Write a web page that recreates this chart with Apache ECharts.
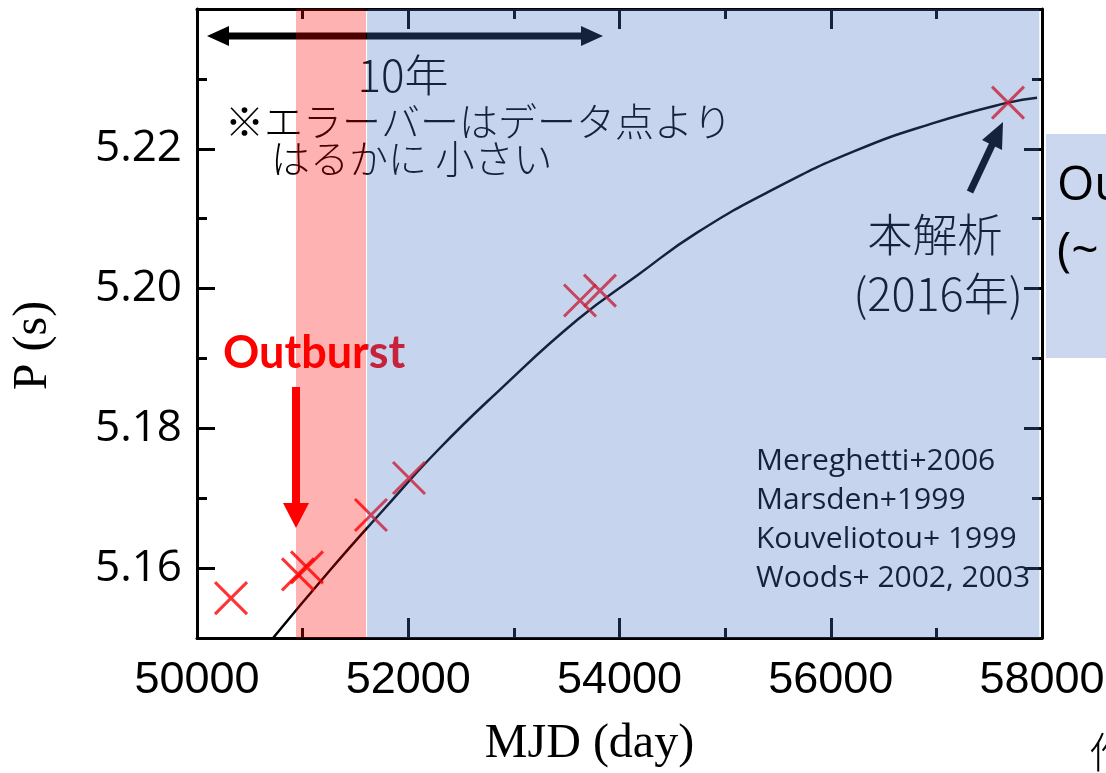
<!DOCTYPE html>
<html>
<head>
<meta charset="utf-8">
<script src="https://cdn.jsdelivr.net/npm/echarts@6/dist/echarts.min.js"></script>
<style>
html,body{margin:0;padding:0;background:#fff;}
#chart{width:1106px;height:773px;}
</style>
</head>
<body>
<div id="chart"></div>
<script>
// ---- data ----
const obsMJD = [50322, 50956, 51041, 51647, 52007, 53626, 53815, 57678];
const obsP   = [5.1557, 5.1591, 5.1601, 5.1676, 5.1729, 5.1983, 5.1997, 5.2266];
const fitMJD = [50720, 51259, 51751, 52282, 52859, 53607, 54170, 54734, 55482, 56230, 56978, 57678, 57953];
const fitP   = [5.1500, 5.1597, 5.1681, 5.1769, 5.1854, 5.1956, 5.2019, 5.2080, 5.2144, 5.2197, 5.2237, 5.2266, 5.2273];
const outburstBand = [50937, 51600];
const studyBand = [51610, 57975];
const xTicks = [50000, 52000, 54000, 56000, 58000];
const yTicks = [5.16, 5.18, 5.20, 5.22];
const refLines = ['Mereghetti+2006', 'Marsden+1999', 'Kouveliotou+ 1999', 'Woods+ 2002, 2003'];

const chart = echarts.init(document.getElementById('chart'), null, {renderer: 'canvas'});

const xMin = 50000, xMax = 58000, yMin = 5.15, yMax = 5.24;
const AX = '#000';
const numFont = '"Open Sans", "Noto Sans", sans-serif';
const jpFont = '"Noto Sans CJK JP", "Noto Sans", sans-serif';

function txt(text, x, y, size, opts) {
  opts = opts || {};
  return {
    type: 'text', x: x, y: y, z: 1, silent: true,
    style: {
      text: text, fill: opts.color || '#000',
      fontSize: size, fontFamily: opts.font || jpFont,
      fontWeight: opts.weight || 'normal',
      align: opts.align || 'left', verticalAlign: 'middle',
      textAlign: opts.align || 'left', textVerticalAlign: 'middle'
    }
  };
}

const graphics = [
  // 10-year double arrow
  {type: 'line', z: 1, silent: true, shape: {x1: 224, y1: 36, x2: 586, y2: 36}, style: {stroke: '#000', lineWidth: 7}},
  {type: 'polygon', z: 1, silent: true, shape: {points: [[207, 36], [229, 26], [229, 46]]}, style: {fill: '#000'}},
  {type: 'polygon', z: 1, silent: true, shape: {points: [[603, 36], [581, 26], [581, 46]]}, style: {fill: '#000'}},
  txt('10年', 403, 75, 44, {align: 'center', weight: 300}),
  txt('※エラーバーはデータ点より', 225, 121, 39, {weight: 300}),
  txt('はるかに 小さい', 271, 158, 39, {weight: 300}),
  // Outburst
  txt('Outburst', 223, 353, 45, {font: 'Lato, "Open Sans", sans-serif', weight: 'bold', color: '#ff0000'}),
  {type: 'rect', z: 1, silent: true, shape: {x: 292, y: 387, width: 8, height: 118}, style: {fill: '#ff0000'}},
  {type: 'polygon', z: 1, silent: true, shape: {points: [[283, 503], [309, 503], [296, 528]]}, style: {fill: '#ff0000'}},
  // this analysis
  txt('本解析', 935, 235, 45, {align: 'center', weight: 300}),
  txt('(2016年)', 938, 294, 45, {align: 'center', weight: 300}),
  {type: 'line', z: 1, silent: true, shape: {x1: 970, y1: 192, x2: 993, y2: 143}, style: {stroke: '#000', lineWidth: 7}},
  {type: 'polygon', z: 1, silent: true, shape: {points: [[1003, 122], [1002, 150], [982, 140]]}, style: {fill: '#000'}},
  // right-side cut-off slide elements
  {type: 'rect', z: 1, silent: true, shape: {x: 1046, y: 134, width: 70, height: 224}, style: {fill: '#cad7ee'}},
  txt('Outburst', 1057, 186, 48, {font: numFont}),
  txt('(~', 1057, 252, 48, {font: numFont}),
  txt('作', 1089, 752, 42, {weight: 300})
];
refLines.forEach(function (s, i) {
  graphics.push(txt(s, 756, 461 + i * 39.3, 30, {font: numFont}));
});

const xCommon = {
  type: 'value', min: xMin, max: xMax, interval: 2000,
  axisLine: {show: true, onZero: false, lineStyle: {color: AX, width: 3}},
  axisTick: {show: true, inside: true, length: 20, lineStyle: {color: AX, width: 3}},
  minorTick: {show: true, splitNumber: 2, length: 10, lineStyle: {color: AX, width: 3}},
  splitLine: {show: false}, minorSplitLine: {show: false}
};
const yCommon = {
  type: 'value', min: yMin, max: yMax, interval: 0.01,
  axisLine: {show: true, onZero: false, lineStyle: {color: AX, width: 3}},
  axisTick: {show: true, inside: true, length: 10, lineStyle: {color: AX, width: 3}},
  splitLine: {show: false}
};
const yMajor = {
  type: 'value', min: yMin, max: yMax,
  axisLine: {show: false},
  axisLabel: {show: false},
  axisTick: {show: true, inside: true, length: 18, customValues: yTicks, lineStyle: {color: AX, width: 3}},
  splitLine: {show: false}
};

const option = {
  animation: false,
  backgroundColor: '#fff',
  grid: {left: 197, right: 64, top: 9, bottom: 135, containLabel: false, outerBoundsMode: 'none'},
  graphic: graphics,
  xAxis: [
    Object.assign({}, xCommon, {
      position: 'bottom',
      name: 'MJD (day)', nameLocation: 'middle', nameGap: 82,
      nameTextStyle: {fontFamily: '"Liberation Serif", serif', fontSize: 48, color: '#000', padding: [0, 60, 0, 0]},
      axisLabel: {
        show: true, margin: 20, color: '#000',
        fontFamily: '"Liberation Sans Narrow", "Liberation Sans", sans-serif', fontSize: 45,
        showMinLabel: true, showMaxLabel: true,
        formatter: function (v) { return xTicks.indexOf(v) >= 0 ? String(v) : ''; }
      }
    }),
    Object.assign({}, xCommon, {position: 'top', axisLabel: {show: false}})
  ],
  yAxis: [
    Object.assign({}, yCommon, {
      position: 'left',
      name: 'P (s)', nameLocation: 'middle', nameGap: 140, nameRotate: 90,
      nameTextStyle: {fontFamily: '"Liberation Serif", serif', fontSize: 48, color: '#000', padding: [0, 44, 0, 0]},
      axisLabel: {
        show: true, margin: 15, color: '#000', fontFamily: numFont, fontSize: 44,
        formatter: function (v) {
          const k = Math.round(v * 100);
          return yTicks.some(function (t) { return Math.round(t * 100) === k; }) ? (k / 100).toFixed(2) : '';
        }
      }
    }),
    Object.assign({}, yCommon, {position: 'right', axisLabel: {show: false}}),
    Object.assign({}, yMajor, {position: 'left'}),
    Object.assign({}, yMajor, {position: 'right'})
  ],
  series: [
    {
      type: 'line', name: 'fit', xAxisIndex: 0, yAxisIndex: 0, z: 2,
      data: fitMJD.map(function (x, i) { return [x, fitP[i]]; }),
      smooth: true, showSymbol: false, clip: true, silent: true,
      lineStyle: {color: '#000', width: 2.5}
    },
    {
      type: 'scatter', name: 'obs', xAxisIndex: 0, yAxisIndex: 0, z: 3,
      data: obsMJD.map(function (x, i) { return [x, obsP[i]]; }),
      symbol: 'path://M0,0L32,32M32,0L0,32', symbolSize: 32, silent: true,
      itemStyle: {color: 'rgba(0,0,0,0)', borderColor: '#ff0000', borderWidth: 3}
    },
    {
      type: 'scatter', name: 'bands', xAxisIndex: 0, yAxisIndex: 0, z: 10,
      data: [], silent: true,
      markArea: {
        silent: true, z: 10,
        label: {show: false},
        data: [
          [{xAxis: outburstBand[0], itemStyle: {color: 'rgba(255,0,0,0.3)'}}, {xAxis: outburstBand[1]}],
          [{xAxis: studyBand[0], itemStyle: {color: 'rgba(68,114,196,0.3)'}}, {xAxis: studyBand[1]}]
        ]
      }
    }
  ]
};
chart.setOption(option);
</script>
</body>
</html>
